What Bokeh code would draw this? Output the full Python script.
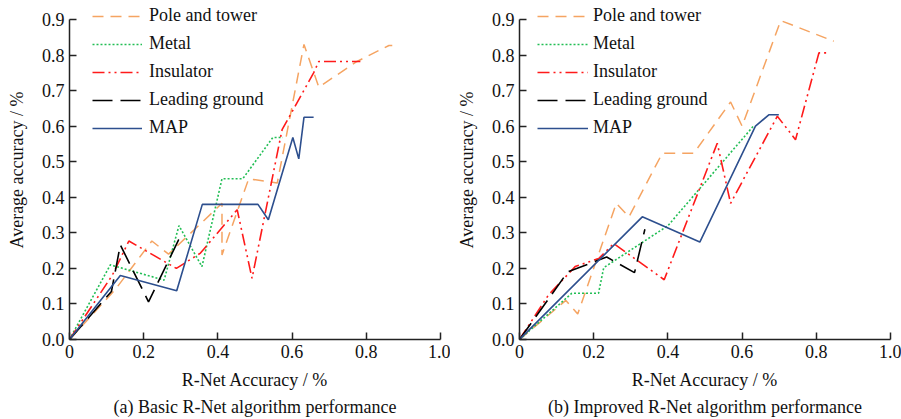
from bokeh.plotting import figure
from bokeh.models import Legend, LegendItem, FixedTicker, Title, Range1d
from bokeh.layouts import row
from bokeh.embed import file_html
from bokeh.resources import INLINE

# ---------------- data ----------------
x_ticks = [0, 0.2, 0.4, 0.6, 0.8, 1.0]
x_tick_labels = ["0", "0.2", "0.4", "0.6", "0.8", "1.0"]
y_ticks = [0, 0.1, 0.2, 0.3, 0.4, 0.5, 0.6, 0.7, 0.8, 0.9]
y_tick_labels = ["0.0", "0.1", "0.2", "0.3", "0.4", "0.5", "0.6", "0.7", "0.8", "0.9"]

series_names = ["Pole and tower", "Metal", "Insulator", "Leading ground", "MAP"]

# (a) Basic R-Net
a_pole_x = [0, 0.123, 0.222, 0.267, 0.411, 0.411, 0.483, 0.56, 0.632, 0.672, 0.775, 0.861, 0.87]
a_pole_y = [0, 0.14, 0.277, 0.24, 0.383, 0.238, 0.452, 0.44, 0.83, 0.71, 0.782, 0.827, 0.827]
a_metal_x = [0, 0.11, 0.255, 0.295, 0.357, 0.411, 0.467, 0.548, 0.575]
a_metal_y = [0, 0.21, 0.167, 0.32, 0.205, 0.452, 0.452, 0.568, 0.568]
a_insul_x = [0, 0.115, 0.16, 0.288, 0.353, 0.452, 0.492, 0.573, 0.658, 0.672, 0.784]
a_insul_y = [0, 0.18, 0.277, 0.2, 0.243, 0.365, 0.172, 0.59, 0.75, 0.782, 0.782]
a_lead_x = [0, 0.113, 0.137, 0.213, 0.294, 0.307]
a_lead_y = [0, 0.135, 0.266, 0.106, 0.28, 0.28]
a_map_x = [0, 0.137, 0.289, 0.358, 0.508, 0.536, 0.602, 0.618, 0.632, 0.658]
a_map_y = [0, 0.18, 0.137, 0.38, 0.38, 0.337, 0.568, 0.508, 0.625, 0.625]

# (b) Improved R-Net
b_pole_x = [0, 0.125, 0.157, 0.261, 0.295, 0.385, 0.47, 0.569, 0.6, 0.704, 0.847]
b_pole_y = [0, 0.11, 0.072, 0.383, 0.345, 0.524, 0.524, 0.668, 0.6, 0.897, 0.839]
b_metal_x = [0, 0.141, 0.213, 0.227, 0.4, 0.632]
b_metal_y = [0, 0.13, 0.13, 0.202, 0.32, 0.602]
b_insul_x = [0, 0.078, 0.15, 0.214, 0.254, 0.39, 0.533, 0.569, 0.695, 0.744, 0.807, 0.829]
b_insul_y = [0, 0.125, 0.205, 0.228, 0.27, 0.168, 0.552, 0.383, 0.628, 0.562, 0.806, 0.806]
b_lead_x = [0, 0.13, 0.235, 0.31, 0.338]
b_lead_y = [0, 0.19, 0.232, 0.188, 0.31]
b_map_x = [0, 0.331, 0.486, 0.636, 0.672, 0.699]
b_map_y = [0, 0.345, 0.274, 0.6, 0.632, 0.632]

captions = ["(a) Basic R-Net algorithm performance", "(b) Improved R-Net algorithm performance"]
x_label = "R-Net Accuracy / %"
y_label = "Average accuracy / %"

# ---------------- styles ----------------
FONT = "Liberation Serif"
FS = "18px"
styles = [
    dict(color="#F5A462", line_dash="11 7", line_width=1.5),
    dict(color="#22BE55", line_dash="2 2", line_width=1.6),
    dict(color="#FF1A1A", line_dash="12 4 2 4 2 4", line_width=1.6),
    dict(color="#000000", line_dash="20 8", line_width=1.6),
    dict(color="#2D4F8E", line_dash="solid", line_width=1.6),
]

FRAME_H = 339          # frame runs from canvas top to the x axis
Y_TOP = 0.9 * FRAME_H / 320.0


def make_panel(series, caption, leg_x, glyph_w, standoff, width):
    p = figure(width=width, height=419, output_backend="svg", toolbar_location=None,
               x_range=Range1d(0, 1.0), y_range=Range1d(0, Y_TOP),
               min_border_left=69, min_border_right=width - 69 - 371,
               min_border_top=0, min_border_bottom=419 - FRAME_H)
    p.outline_line_color = None
    p.xgrid.visible = False
    p.ygrid.visible = False
    items = []
    for (xs, ys), name, st in zip(series, series_names, styles):
        r = p.line(xs, ys, **st)
        items.append(LegendItem(label=name, renderers=[r]))
    leg = Legend(items=items, location=(leg_x, 201), orientation="vertical",
                 glyph_width=glyph_w, glyph_height=20, label_height=20,
                 spacing=7, padding=0, margin=0, label_standoff=standoff,
                 border_line_color=None, background_fill_alpha=0,
                 label_text_font=FONT, label_text_font_size=FS,
                 label_text_color="#111111")
    p.add_layout(leg, "center")

    for ax in (p.xaxis[0], p.yaxis[0]):
        ax.axis_line_width = 1.5
        ax.axis_line_color = "#222222"
        ax.major_tick_line_width = 1.5
        ax.major_tick_line_color = "#222222"
        ax.major_tick_in = 7
        ax.major_tick_out = 0
        ax.minor_tick_line_color = None
        ax.major_label_text_font = FONT
        ax.major_label_text_font_size = FS
        ax.major_label_text_color = "#111111"
        ax.axis_label_text_font = FONT
        ax.axis_label_text_font_size = FS
        ax.axis_label_text_font_style = "normal"
        ax.axis_label_text_color = "#111111"
    p.yaxis.bounds = (0, 0.9)
    p.xaxis.ticker = FixedTicker(ticks=x_ticks)
    p.xaxis.major_label_overrides = dict(zip(x_ticks, x_tick_labels))
    p.yaxis.ticker = FixedTicker(ticks=y_ticks)
    p.yaxis.major_label_overrides = dict(zip(y_ticks, y_tick_labels))
    p.xaxis.axis_label = x_label
    p.yaxis.axis_label = y_label
    p.xaxis.axis_label_standoff = 9
    p.yaxis.axis_label_standoff = 12
    p.xaxis.major_label_standoff = 5
    p.yaxis.major_label_standoff = 5

    t = Title(text=caption, align="center", text_font=FONT, text_font_size=FS,
              text_font_style="normal", text_color="#111111", standoff=4)
    p.add_layout(t, "below")
    return p


p1 = make_panel([(a_pole_x, a_pole_y), (a_metal_x, a_metal_y), (a_insul_x, a_insul_y),
                 (a_lead_x, a_lead_y), (a_map_x, a_map_y)], captions[0], 23, 50, 7, 450)
p2 = make_panel([(b_pole_x, b_pole_y), (b_metal_x, b_metal_y), (b_insul_x, b_insul_y),
                 (b_lead_x, b_lead_y), (b_map_x, b_map_y)], captions[1], 18, 51, 5, 451)

layout = row(p1, p2)
open("out.html", "w").write(file_html(layout, INLINE))
